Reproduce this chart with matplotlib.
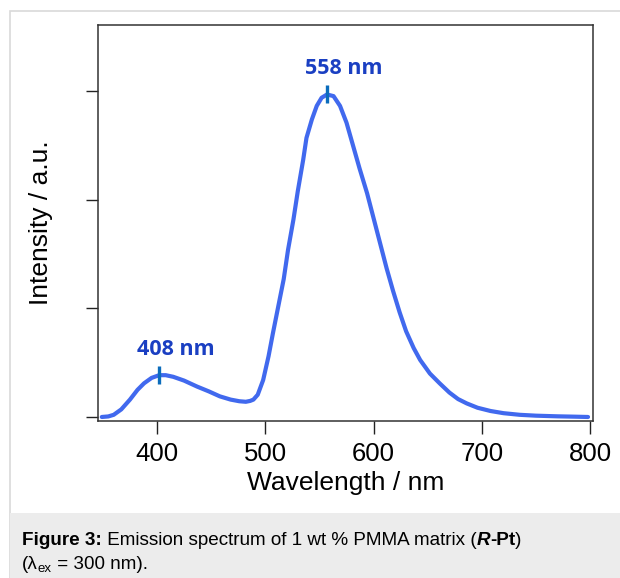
import matplotlib
matplotlib.use("Agg")
import matplotlib.pyplot as plt
from matplotlib.patches import Rectangle

# emission spectrum (wavelength in nm, intensity in a.u.)
wavelength = [349, 355, 360, 367, 375, 382, 388, 395, 402, 408, 415, 425, 437,
              448, 458, 468, 476, 482, 486, 489, 493, 498, 503, 507, 512, 517,
              521, 526, 530, 535, 538, 540.5, 543, 547.5, 552, 557, 563, 569,
              575, 581, 587, 594, 600, 606, 612, 618, 624, 630, 637, 643, 652,
              661, 670, 678, 686, 696, 708, 720, 735, 750, 770, 785, 798]
intensity = [0.0, 0.005, 0.02, 0.07, 0.16, 0.25, 0.31, 0.36, 0.385, 0.385, 0.37,
             0.335, 0.28, 0.235, 0.19, 0.16, 0.145, 0.14, 0.148, 0.16, 0.205,
             0.34, 0.56, 0.77, 1.02, 1.27, 1.54, 1.82, 2.08, 2.37, 2.57, 2.655,
             2.74, 2.865, 2.94, 2.97, 2.955, 2.865, 2.71, 2.50, 2.29, 2.06, 1.83,
             1.60, 1.37, 1.16, 0.965, 0.79, 0.635, 0.525, 0.40, 0.31, 0.225,
             0.165, 0.125, 0.085, 0.055, 0.035, 0.02, 0.012, 0.006, 0.003, 0.0]

peak_x = [402, 557]
peak_y = [0.385, 2.97]
peak_labels = ["408 nm", "558 nm"]

xticks = [400, 500, 600, 700, 800]
yticks = [0, 1, 2, 3]

W, H = 620, 578
fig = plt.figure(figsize=(W / 100, H / 100), dpi=100)

# outer frame and caption band (behind the axes)
fig.patches.append(Rectangle((10 / W, 0), 1, 1 - 11 / H, transform=fig.transFigure,
                             facecolor="white", edgecolor="#d9d9d9", lw=1.2, zorder=-10))
fig.patches.append(Rectangle((10 / W, 0), 1, (H - 513) / H, transform=fig.transFigure,
                             facecolor="#ececec", edgecolor="none", zorder=-9))

ax = fig.add_axes([98 / W, 1 - 421 / H, (593 - 98) / W, (421 - 25) / H])
ax.plot(wavelength, intensity, color="#4169ee", lw=3.0, solid_capstyle="round",
        solid_joinstyle="round")
ax.plot(peak_x, peak_y, ls="none", marker="|", ms=13, mew=2.4, color="#0b6cbc")
for px, py, lab in zip(peak_x, peak_y, peak_labels):
    ax.annotate(lab, (px, py), xytext=(12, 11), textcoords="offset points",
                ha="center", va="bottom", color="#1a3fc2", fontsize=15.5,
                fontweight="bold", family="Open Sans")

ax.set_xlim(345.5, 802.6)
ax.set_ylim(-0.037, 3.61)
ax.set_xticks(xticks)
ax.set_yticks(yticks)
ax.set_yticklabels([])
ax.tick_params(axis="both", direction="out", length=9, width=1.0, color="#222222")
ax.tick_params(axis="x", labelsize=18.5, pad=6)
for lbl in ax.get_xticklabels():
    lbl.set_family("Liberation Sans")
for sp in ax.spines.values():
    sp.set_color("#333333")
    sp.set_linewidth(1.1)

ax.set_xlabel("Wavelength / nm", fontsize=19, family="Liberation Sans", labelpad=4)
ax.set_ylabel("Intensity / a.u.", fontsize=19, family="Liberation Sans", labelpad=20)

# caption with mixed styles, placed piece by piece
fig.canvas.draw()
renderer = fig.canvas.get_renderer()
cap_size = 13.6


def put(x, y, s, **kw):
    t = fig.text(x / W, 1 - y / H, s, fontsize=kw.pop("size", cap_size),
                 family="Liberation Sans", va="baseline", ha="left", **kw)
    bb = t.get_window_extent(renderer)
    return x + bb.width


y1, y2 = 545, 569
x = put(22, y1, "Figure 3:", fontweight="bold")
x = put(x, y1, " Emission spectrum of 1 wt % PMMA matrix (")
x = put(x, y1, "R", fontweight="bold", style="italic")
x = put(x, y1, "-Pt", fontweight="bold")
x = put(x, y1, ")")
x = put(22, y2, "(\u03bb")
x = put(x, y2 + 3, "ex", size=9.5)
x = put(x, y2, " = 300 nm).")

fig.savefig("out.png", dpi=100)
